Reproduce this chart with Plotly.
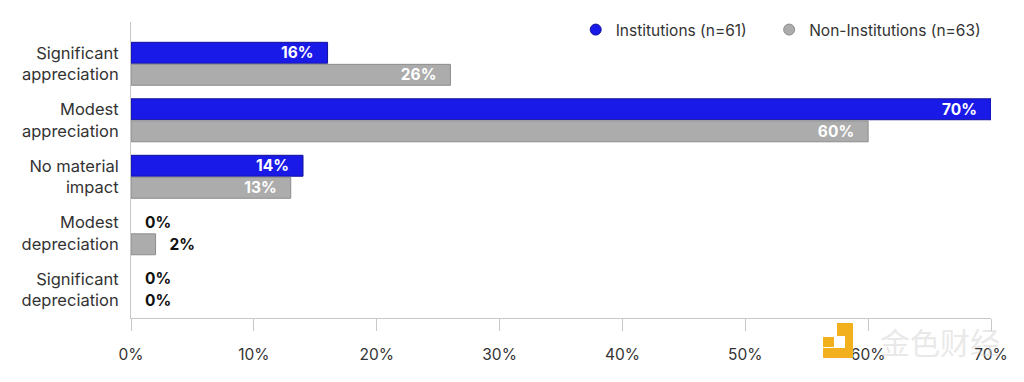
import plotly.graph_objects as go

categories = ["Significant<br>appreciation", "Modest<br>appreciation", "No material<br>impact",
              "Modest<br>depreciation", "Significant<br>depreciation"]
institutions = [16, 70, 14, 0, 0]
non_institutions = [26, 60, 13, 2, 0]
series_names = ["Institutions (n=61)", "Non-Institutions (n=63)"]
x_ticks = [0, 10, 20, 30, 40, 50, 60, 70]
x_tick_labels = ["0%", "10%", "20%", "30%", "40%", "50%", "60%", "70%"]

BLUE = "#1a1ae8"
BLUE_EDGE = "#10109a"
GREY = "#acacac"
GREY_EDGE = "#8c8c8c"
FONT = "Inter"
NB = "\u00a0"

# page has an 8px body margin; figure is sized so the plot lands where the reference's does
PAGE_OFF = 8
PLOT_L, PLOT_R, PLOT_T, PLOT_B = 131, 991, 22, 318

def px(X):
    return (X - PLOT_L) / (PLOT_R - PLOT_L)

def py(Y):
    return (PLOT_B - Y) / (PLOT_B - PLOT_T)

def labels(vals):
    txt, pos, col = [], [], []
    for v in vals:
        if v >= 5:
            txt.append(f"{v}%{NB*3}")
            pos.append("inside")
            col.append("white")
        else:
            txt.append(f"{NB*3}{v}%")
            pos.append("outside")
            col.append("#111111")
    return txt, pos, col

fig = go.Figure()
legend_names = [series_names[0] + NB * 4, series_names[1]]
for name, lname, vals, fill, edge in [(series_names[0], legend_names[0], institutions, BLUE, BLUE_EDGE),
                                      (series_names[1], legend_names[1], non_institutions, GREY, GREY_EDGE)]:
    t, p, c = labels(vals)
    fig.add_trace(go.Bar(
        y=categories, x=vals, orientation="h", name=name,
        marker=dict(color=fill, line=dict(color=edge, width=[1 if v > 0 else 0 for v in vals])),
        text=t, textposition=p, insidetextanchor="end", constraintext="none",
        textfont=dict(family=FONT, size=15.5, color=c, weight="bold"),
        cliponaxis=False, showlegend=False,
    ))
    fig.add_trace(go.Scatter(
        x=[None], y=[None], mode="markers", name=lname,
        marker=dict(color=fill, size=11, symbol="circle", line=dict(color=edge, width=1)),
    ))

W, H = 1024 - PAGE_OFF, 382 - PAGE_OFF
fig.update_layout(
    width=W, height=H,
    margin=dict(l=PLOT_L - PAGE_OFF, r=W - (PLOT_R - PAGE_OFF), t=PLOT_T - PAGE_OFF,
                b=H - (PLOT_B - PAGE_OFF), autoexpand=False),
    paper_bgcolor="white", plot_bgcolor="white",
    barmode="group", bargap=0.22, bargroupgap=0.05,
    font=dict(family=FONT, color="#333333", size=15),
    legend=dict(orientation="h", x=0.995, xanchor="right", y=py(30), yanchor="middle",
                font=dict(size=15.5, color="#333333"), itemwidth=30,
                bgcolor="rgba(0,0,0,0)", traceorder="normal"),
    xaxis=dict(range=[0, 70], tickvals=x_ticks, ticktext=x_tick_labels,
               showgrid=False, zeroline=False, showline=True, linecolor="#c8c8c8",
               ticks="outside", ticklen=12, tickcolor="#c8c8c8",
               ticklabelstandoff=10, tickfont=dict(size=15.5, color="#333333")),
    yaxis=dict(categoryorder="array", categoryarray=categories, range=[4.5, -0.74],
               showgrid=False, zeroline=False, showline=True, linecolor="#c8c8c8",
               ticks="", ticklabelstandoff=8, tickfont=dict(size=16.5, color="#333333")),
)

# watermark
ORANGE = "#f2b01e"
for x0, y0, x1, y1 in [(837, 323, 847, 336), (823, 337, 834, 347), (823, 348, 853, 358), (845, 323, 853, 358)]:
    fig.add_shape(type="rect", xref="paper", yref="paper", x0=px(x0), x1=px(x1), y0=py(y1), y1=py(y0),
                  fillcolor=ORANGE, line=dict(width=0), layer="above")
fig.add_annotation(xref="paper", yref="paper", x=px(1002), y=py(341), xanchor="right", yanchor="middle",
                   text="金色财经", showarrow=False,
                   font=dict(family="Noto Sans CJK SC", size=30, color="rgba(205,205,205,0.45)"))

fig.write_html("out.html")
